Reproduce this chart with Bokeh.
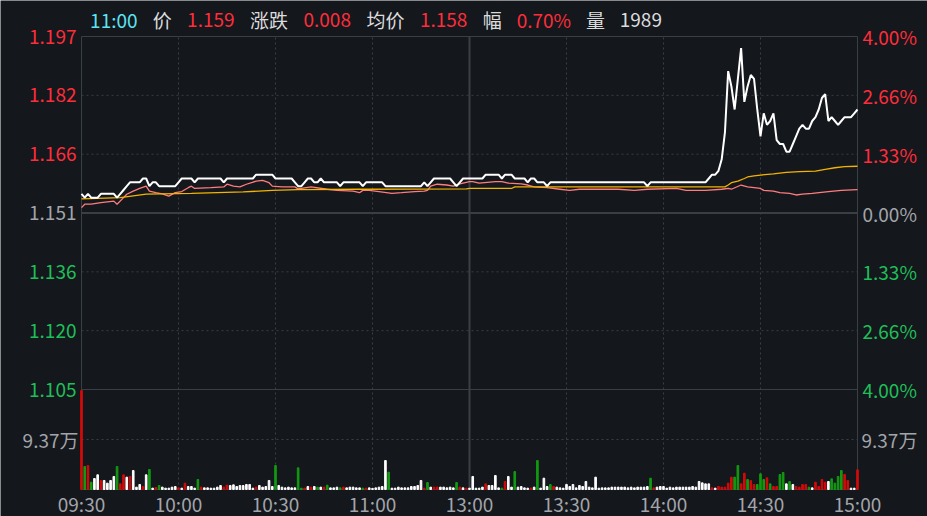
from bokeh.plotting import figure
from bokeh.models import Range1d, ColumnDataSource
from bokeh.core.properties import value
from bokeh.embed import file_html
from bokeh.resources import INLINE

# ---------------- data ----------------
PREV_CLOSE = 1.151
TIME_TICKS = [0, 30, 60, 90, 120, 150, 180, 210, 240]
TIME_LABELS = ["09:30", "10:00", "10:30", "11:00", "13:00", "13:30", "14:00", "14:30", "15:00"]
# price grid steps: each step is 1/3 of the 4% band
STEP_TICKS = [3, 2, 1, 0, -1, -2, -3]
PRICE_TICK_LABELS = ["1.197", "1.182", "1.166", "1.151", "1.136", "1.120", "1.105"]
PCT_TICK_LABELS = ["4.00%", "2.66%", "1.33%", "0.00%", "1.33%", "2.66%", "4.00%"]
VOL_TICK = 93700
VOL_TICK_LABEL = "9.37万"

# minute-by-minute last price (09:30 .. 11:30 | 13:00 .. 15:00)
PRICE = [
    1.156, 1.155, 1.156, 1.155, 1.155, 1.155, 1.156, 1.156, 1.156, 1.156,
    1.156, 1.155, 1.156, 1.157, 1.158, 1.159, 1.159, 1.159, 1.159, 1.160,
    1.160, 1.158, 1.159, 1.159, 1.158, 1.158, 1.158, 1.158, 1.158, 1.158,
    1.159, 1.160, 1.160, 1.160, 1.160, 1.159, 1.160, 1.160, 1.160, 1.160,
    1.160, 1.160, 1.160, 1.160, 1.159, 1.160, 1.160, 1.160, 1.160, 1.160,
    1.160, 1.160, 1.160, 1.160, 1.161, 1.161, 1.161, 1.161, 1.161, 1.161,
    1.160, 1.160, 1.160, 1.160, 1.160, 1.160, 1.159, 1.158, 1.158, 1.159,
    1.160, 1.160, 1.159, 1.159, 1.160, 1.159, 1.159, 1.159, 1.159, 1.159,
    1.158, 1.159, 1.159, 1.159, 1.159, 1.159, 1.159, 1.158, 1.159, 1.159,
    1.159, 1.159, 1.159, 1.159, 1.158, 1.158, 1.158, 1.158, 1.158, 1.158,
    1.158, 1.158, 1.158, 1.158, 1.158, 1.158, 1.159, 1.158, 1.159, 1.160,
    1.160, 1.160, 1.160, 1.160, 1.160, 1.159, 1.158, 1.159, 1.160, 1.160,
    1.160, 1.160, 1.160, 1.160, 1.160, 1.161, 1.161, 1.161, 1.161, 1.161,
    1.160, 1.161, 1.161, 1.161, 1.160, 1.160, 1.160, 1.160, 1.159, 1.160,
    1.160, 1.159, 1.159, 1.159, 1.158, 1.159, 1.159, 1.159, 1.159, 1.159,
    1.159, 1.159, 1.159, 1.159, 1.159, 1.159, 1.159, 1.159, 1.159, 1.159,
    1.159, 1.159, 1.159, 1.159, 1.159, 1.159, 1.159, 1.159, 1.159, 1.159,
    1.159, 1.159, 1.159, 1.159, 1.159, 1.158, 1.159, 1.159, 1.159, 1.159,
    1.159, 1.159, 1.159, 1.159, 1.159, 1.159, 1.159, 1.159, 1.159, 1.159,
    1.159, 1.159, 1.159, 1.159, 1.160, 1.161, 1.161, 1.162, 1.165, 1.172,
    1.188, 1.184, 1.178, 1.186, 1.194, 1.180, 1.184, 1.187, 1.186, 1.178,
    1.171, 1.177, 1.174, 1.175, 1.177, 1.170, 1.169, 1.169, 1.167, 1.167,
    1.169, 1.171, 1.173, 1.174, 1.173, 1.173, 1.175, 1.176, 1.178, 1.181,
    1.182, 1.175, 1.176, 1.175, 1.174, 1.175, 1.176, 1.176, 1.176, 1.177,
    1.178,
]

# average price line (minute, price) read at its turning points
AVG_T = [0, 12, 20, 34, 50, 59, 67, 86, 119, 120, 133, 134, 199, 200, 201, 203, 205,
         206, 208, 210, 214, 218, 222, 227, 230, 233, 236, 240]
AVG_P = [1.1547, 1.1550, 1.1559, 1.1561, 1.1565, 1.1569, 1.1571, 1.1572, 1.1573, 1.1574,
         1.1574, 1.1578, 1.1578, 1.1583, 1.1589, 1.1593, 1.1600, 1.1604, 1.1607, 1.1609,
         1.1612, 1.1616, 1.1618, 1.1619, 1.1624, 1.1628, 1.1631, 1.1632]

# benchmark line (minute, price-equivalent)
BENCH_T = [0, 1, 3, 6, 8, 10, 11, 13, 14, 16, 18, 20, 21, 23, 25, 27, 29, 31, 33, 34,
           35, 40, 44, 45, 47, 49, 51, 54, 56, 58, 59, 62, 66, 67, 71, 76, 79, 84, 86, 87,
           89, 92, 96, 99, 103, 106, 107, 108, 110, 113, 115, 117, 120, 121, 123, 128, 130,
           132, 136, 138, 140, 144, 148, 151, 154, 166, 171, 175, 184, 187, 193, 198, 200,
           201, 204, 206, 210, 211, 214, 216, 219, 221, 223, 226, 231, 235, 240]
BENCH_P = [1.1524, 1.1533, 1.1533, 1.1537, 1.1539, 1.1541, 1.1533, 1.1550, 1.1559, 1.1567,
           1.1574, 1.1580, 1.1567, 1.1563, 1.1560, 1.1554, 1.1563, 1.1566, 1.1576, 1.1580,
           1.1574, 1.1576, 1.1578, 1.1585, 1.1580, 1.1578, 1.1585, 1.1593, 1.1595, 1.1589,
           1.1580, 1.1578, 1.1578, 1.1573, 1.1578, 1.1572, 1.1569, 1.1567, 1.1563, 1.1569,
           1.1569, 1.1566, 1.1561, 1.1563, 1.1566, 1.1567, 1.1569, 1.1580, 1.1585, 1.1583,
           1.1580, 1.1586, 1.1592, 1.1592, 1.1588, 1.1592, 1.1592, 1.1588, 1.1586, 1.1583,
           1.1578, 1.1576, 1.1572, 1.1569, 1.1572, 1.1572, 1.1569, 1.1572, 1.1574, 1.1569,
           1.1569, 1.1572, 1.1574, 1.1572, 1.1583, 1.1578, 1.1574, 1.1569, 1.1567, 1.1563,
           1.1561, 1.1557, 1.1559, 1.1561, 1.1566, 1.1569, 1.1571]

# minute volume
VOL = [
    185500, 43100, 45000, 13700, 20600, 27500, 16900, 16900, 11900, 16900,
    24400, 43100, 10600, 27500, 23100, 24400, 35600, 4400, 9400, 5600,
    27500, 37500, 2500, 3700, 7500, 4400, 2500, 2500, 4400, 5600,
    3100, 2500, 11900, 5600, 5600, 2500, 18700, 4400, 3100, 3100,
    2500, 2500, 4400, 7500, 4400, 8100, 7500, 8700, 5600, 7500,
    7500, 9400, 9400, 2500, 4400, 7500, 4400, 5600, 16900, 5600,
    45000, 7500, 4400, 3100, 4400, 3100, 3100, 40600, 2500, 2500,
    5600, 4400, 5600, 4400, 4400, 4400, 8100, 3100, 3100, 4400,
    3100, 4400, 3100, 4400, 4400, 3100, 3100, 2500, 2500, 3100,
    1989, 3100, 4400, 5600, 54300, 32500, 2500, 2500, 4400, 3100,
    3100, 3100, 5600, 5600, 7500, 16900, 2500, 13100, 4400, 4400,
    4400, 4400, 4400, 3100, 4400, 3100, 13100, 4400, 3100, 2500,
    2500, 24400, 2500, 2500, 4400, 10600, 7500, 7500, 26200, 3100,
    2500, 15000, 24400, 4400, 33700, 4400, 5600, 3100, 2500, 2500,
    4400, 54300, 2500, 21200, 5600, 9400, 5600, 4400, 3100, 2500,
    9400, 5600, 9400, 3100, 7500, 5600, 15000, 4400, 3100, 23100,
    2500, 3100, 3100, 3100, 4400, 4400, 4400, 4400, 4400, 3100,
    4400, 3100, 4400, 4400, 4400, 5600, 21200, 3100, 4400, 5600,
    5600, 2500, 4400, 3100, 4400, 4400, 4400, 4400, 4400, 5600,
    4400, 15000, 12500, 10600, 10600, 3100, 2500, 5600, 4400, 4400,
    11900, 23100, 23100, 45000, 10600, 30600, 18700, 16900, 9400, 9400,
    29400, 18700, 21900, 10600, 5600, 5600, 28100, 31900, 10600, 15000,
    9400, 5600, 4400, 9400, 9400, 4400, 3100, 13700, 5600, 18700,
    13700, 15000, 20000, 11900, 24400, 35600, 28100, 16900, 2500, 2500,
    36900,
]
# r = up minute, g = down minute, w = unchanged
VOL_DIR = (
    "rgrgwwrwww" "wgrrwrwwwr" "wgwrgwwwww" "rwrwwwgrww" "wwwwrrwwww"
    "wwwwrwwwww" "gwwwwwwggr" "wrwgwrgwww" "grwwwwwgrw" "wwwwwgwwww"
    "wwwwwwrgwr" "rwwwwwgrwr" "wwwwwrwwww" "grwwgwwwwr" "wgwwwgrwww"
    "wwwwwwwwww" "wwwwwwwwww" "wwwwwwgrww" "wwwwwwwwww" "wwwwwrwrrr"
    "rrggrrgrrg" "ggrgrrggwg" "wrrrrgwrrr" "rwggggrrww" "r"
)

HEADER_TEXTS = ["11:00", "价", "1.159", "涨跌", "0.008", "均价", "1.158", "幅", "0.70%", "量", "1989"]
HEADER_KIND = ["time", "key", "up", "key", "up", "key", "up", "key", "up", "key", "key"]

# ---------------- style / layout ----------------
BG = "#14171c"
GRID = "#3a3e45"
RED_TXT = "#ff2d3a"
GREEN_TXT = "#1fbf58"
GRAY_TXT = "#a2a5aa"
CYAN_TXT = "#5de4f3"
KEY_TXT = "#dcdcdc"
FONT = "Noto Sans CJK SC"
FS = "19px"
BAR_COLORS = {"r": "#d40a0a", "g": "#129a12", "w": "#ffffff"}
KIND_COLORS = {"time": CYAN_TXT, "key": KEY_TXT, "up": RED_TXT}
# header item centres on the time scale (minutes), only used to place the header texts
HEADER_POS = [10, 25, 40, 58, 76, 94, 112, 127, 143, 159, 173]

W, H = 927, 516
PAD_L, PAD_R, PAD_T, PAD_B = 81, 70, 36, 27     # space around the chart area
PRICE_PANE_PX, VOL_PANE_PX = 353, 100
SPAN_PCT = 4.0

step = PREV_CLOSE * SPAN_PCT / 100 / 3
p_top = PREV_CLOSE + STEP_TICKS[0] * step
p_sep = PREV_CLOSE + STEP_TICKS[-1] * step
ppp = (p_top - p_sep) / PRICE_PANE_PX             # price per pixel
p_bot = p_sep - VOL_PANE_PX * ppp
vpp = 2 * VOL_TICK / VOL_PANE_PX                  # volume per pixel
t0, t1 = TIME_TICKS[0], TIME_TICKS[-1]
tpp = (t1 - t0) / (W - PAD_L - PAD_R)              # minutes per pixel

p = figure(width=W, height=H, output_backend="svg", toolbar_location=None, title=None,
           x_range=Range1d(t0 - PAD_L * tpp, t1 + PAD_R * tpp),
           y_range=Range1d(p_bot - PAD_B * ppp, p_top + PAD_T * ppp),
           x_axis_location=None, y_axis_location=None,
           min_border=0, background_fill_color=BG, border_fill_color=BG)
for g in p.grid:
    g.visible = False
p.outline_line_color = None
p.extra_y_ranges = {"vol": Range1d(-PAD_B * vpp, (H - PAD_B) * vpp)}

price_ticks = [PREV_CLOSE + s * step for s in STEP_TICKS]

# ---- grid ----
dot_y = [price_ticks[i] for i, s in enumerate(STEP_TICKS) if s not in (0, STEP_TICKS[0], STEP_TICKS[-1])]
p.segment(x0=[t0] * len(dot_y), x1=[t1] * len(dot_y), y0=dot_y, y1=dot_y,
          line_color=GRID, line_width=1, line_dash="2 3")
p.segment(x0=[t0], x1=[t1], y0=[VOL_TICK], y1=[VOL_TICK], y_range_name="vol",
          line_color=GRID, line_width=1, line_dash="2 3")
dot_x = [t for t in TIME_TICKS[1:-1] if t != 120]
p.segment(x0=dot_x, x1=dot_x, y0=[p_bot] * len(dot_x), y1=[p_top] * len(dot_x),
          line_color=GRID, line_width=1, line_dash="2 3")
p.segment(x0=[120], x1=[120], y0=[p_bot], y1=[p_top], line_color=GRID, line_width=2)
p.segment(x0=[t0], x1=[t1], y0=[PREV_CLOSE], y1=[PREV_CLOSE], line_color=GRID, line_width=2)
p.segment(x0=[t0], x1=[t1], y0=[p_sep], y1=[p_sep], line_color=GRID, line_width=1)
p.quad(left=[t0], right=[t1], bottom=[p_bot], top=[p_top], fill_color=None,
       line_color=GRID, line_width=1)

# ---- volume bars ----
vsrc = ColumnDataSource(dict(x=list(range(len(VOL))), v=VOL,
                             c=[BAR_COLORS[k] for k in VOL_DIR[:len(VOL)]]))
p.vbar(x="x", top="v", bottom=0, width=0.5, color="c", source=vsrc, y_range_name="vol")

# ---- lines ----
p.line(BENCH_T, BENCH_P, line_color="#ff7d7d", line_width=1.3)
p.line(AVG_T, AVG_P, line_color="#f2b400", line_width=1.3)
p.line(list(range(len(PRICE))), PRICE, line_color="#ffffff", line_width=2)

# ---- y tick labels ----
tick_colors = [RED_TXT if s > 0 else (GRAY_TXT if s == 0 else GREEN_TXT) for s in STEP_TICKS]
n = len(price_ticks)
p.text(x=[t0] * n, y=price_ticks, text=PRICE_TICK_LABELS, text_color=tick_colors,
       x_offset=-5, text_align="right", text_baseline="middle",
       text_font=value(FONT), text_font_size=value(FS))
p.text(x=[t1] * n, y=price_ticks, text=PCT_TICK_LABELS, text_color=tick_colors,
       x_offset=5, text_align="left", text_baseline="middle",
       text_font=value(FONT), text_font_size=value(FS))
p.text(x=[t0], y=[VOL_TICK], text=[VOL_TICK_LABEL], y_range_name="vol", text_color=GRAY_TXT,
       x_offset=-3, text_align="right", text_baseline="middle",
       text_font=value(FONT), text_font_size=value(FS))
p.text(x=[t1], y=[VOL_TICK], text=[VOL_TICK_LABEL], y_range_name="vol", text_color=GRAY_TXT,
       x_offset=4, text_align="left", text_baseline="middle",
       text_font=value(FONT), text_font_size=value(FS))

# ---- x tick labels ----
p.text(x=TIME_TICKS, y=[0] * len(TIME_TICKS), text=TIME_LABELS, y_range_name="vol",
       text_color=GRAY_TXT, y_offset=14, text_align="center", text_baseline="middle",
       text_font=value(FONT), text_font_size=value(FS))

# ---- header ----
p.text(x=HEADER_POS, y=[p_top] * len(HEADER_POS), text=HEADER_TEXTS,
       text_color=[KIND_COLORS[k] for k in HEADER_KIND], y_offset=-17,
       text_align="center", text_baseline="middle",
       text_font=value(FONT), text_font_size=value(FS))

open("out.html", "w").write(file_html(p, INLINE))
